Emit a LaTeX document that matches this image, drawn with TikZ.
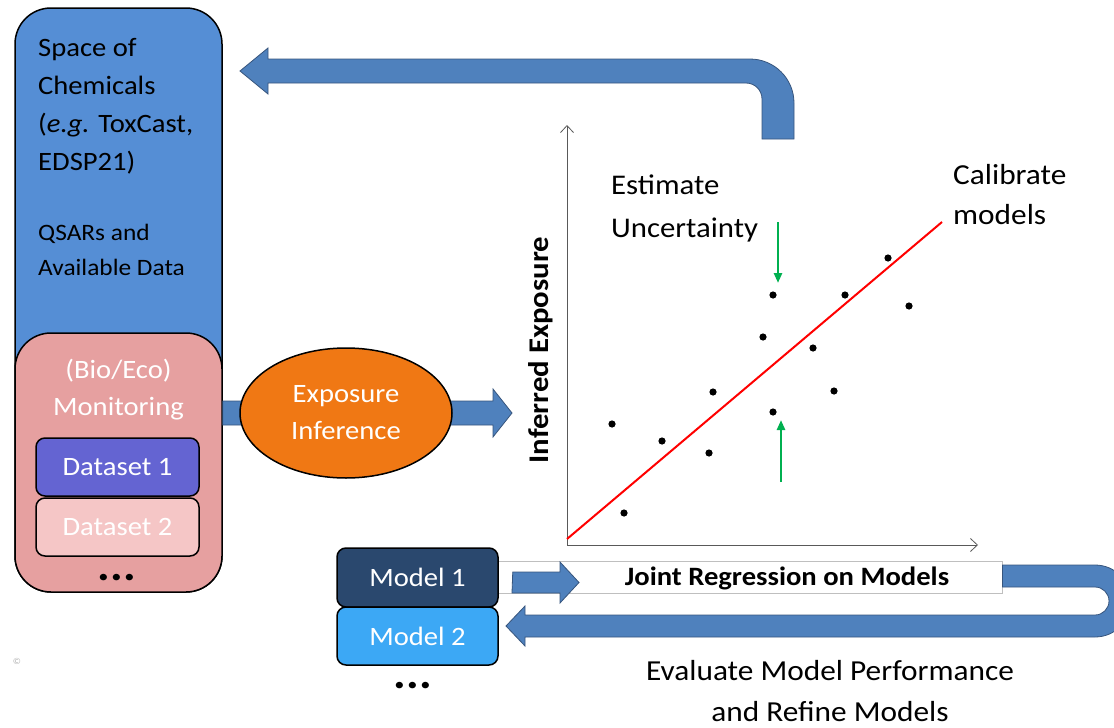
\documentclass[tikz,border=0pt]{standalone}
\usepackage{fontspec}
\setmainfont[FakeStretch=1.08]{Carlito}
\usetikzlibrary{arrows.meta,shapes.geometric}
\definecolor{chemblue}{RGB}{85,142,213}
\definecolor{monpink}{RGB}{230,160,160}
\definecolor{dsone}{RGB}{100,100,210}
\definecolor{dstwo}{RGB}{245,198,198}
\definecolor{modone}{RGB}{42,72,110}
\definecolor{modtwo}{RGB}{60,168,245}
\definecolor{expoorange}{RGB}{240,120,20}
\definecolor{arrowblue}{RGB}{79,129,189}
\definecolor{arrowedge}{RGB}{55,85,125}
\definecolor{uncgreen}{RGB}{0,176,80}
\newcommand\myfs[2]{\fontsize{#1}{#2}\selectfont}
\begin{document}
\begin{tikzpicture}[x=1pt,y=-1pt,
  box/.style={draw=black, line width=1.5pt, rounded corners=#1, inner sep=0pt},
  blockarrow/.style={fill=arrowblue, draw=arrowedge, line width=0.8pt},
  axis/.style={draw=black!65, line width=0.8pt, -{Straight Barb[length=7pt,width=13pt]}},
  greenarrow/.style={draw=uncgreen, line width=2.5pt, -{Triangle[length=10pt,width=8pt]}},
  wtext/.style={text=white, align=center},
  dotstyle/.style={font=\bfseries\myfs{44}{46}, inner sep=0pt}]
\useasboundingbox (0,0) rectangle (1114,728);
\clip (0,0) rectangle (1114,728);

% left column
\node[box=36pt, fill=chemblue, minimum width=207pt, minimum height=584pt] (chem) at (118.5,300) {};
\node[anchor=north west, inner sep=0pt, align=left, font=\myfs{26.5}{38}] (chemtxt) at (38,38)
  {Space of\\Chemicals\\(\textit{e.g.} ToxCast,\\EDSP21)};
\node[anchor=north west, inner sep=0pt, align=left, font=\myfs{23.5}{35}] (qsar) at (38,224)
  {QSARs and\\Available Data};
\node[box=36pt, fill=monpink, minimum width=207pt, minimum height=259pt] (mon) at (118.5,462.5) {};
\node[wtext, font=\myfs{26.5}{37}] (montxt) at (118.5,390) {(Bio/Eco)\\Monitoring};
\node[box=9pt, fill=dsone, minimum width=163pt, minimum height=58pt, wtext, font=\myfs{26.5}{30}] (ds1) at (117.5,467) {Dataset 1};
\node[box=9pt, fill=dstwo, minimum width=163pt, minimum height=58pt, wtext, font=\myfs{26.5}{30}] (ds2) at (117.5,527) {Dataset 2};
\node[dotstyle, anchor=base] (dotsa) at (117,580) {...};

% arrow monitoring -> plot (behind ellipse)
\fill[blockarrow] (mon.east |- 0,401) -- (493,401) -- (493,389) -- (512,413) -- (493,437) -- (493,425) -- (mon.east |- 0,425) -- cycle;
\node[ellipse, draw=black, line width=1.5pt, fill=expoorange, minimum width=212pt, minimum height=130pt, wtext, font=\myfs{26.5}{37}] (expo) at (346,413) {Exposure\\Inference};

% top feedback arrow
\fill[blockarrow] (762,139) -- (762,99) arc[start angle=0, end angle=-90, radius=16] -- (268,83) -- (268,94) -- (240,71) -- (268,48) -- (268,59) -- (750,59) arc[start angle=-90, end angle=0, radius=44] -- (794,139) -- cycle;

% plot
\coordinate (origin) at (567,545);
\coordinate (ytop) at (567,125);
\coordinate (xend) at (978,545);
\draw[axis] (origin) -- (ytop);
\draw[axis] (origin) -- (xend);
\coordinate (fita) at (567,539);
\coordinate (fitb) at (942,222);
\draw[red, line width=2pt] (fita) -- (fitb);
\foreach \p in {(612,424),(624,513),(662,441),(709,453),(713,392),(763,337),(773,295),(773,412),(813,348),(834,391),(845,295),(888,258),(909,306)}
  \fill \p circle[radius=3.6pt];
\coordinate (gda) at (778,222); \coordinate (gdb) at (778,283);
\coordinate (gua) at (781,482); \coordinate (gub) at (781,420);
\draw[greenarrow] (gda) -- (gdb);
\draw[greenarrow] (gua) -- (gub);
\node[rotate=90, font=\bfseries\myfs{28.5}{30}] (ylab) at (541,350) {Inferred Exposure};
\node[anchor=west, inner sep=0pt, align=left, font=\myfs{28.5}{43}] (est) at (611,208.5) {Estimate\\Uncertainty};
\node[anchor=west, inner sep=0pt, align=left, font=\myfs{29}{40}] (calib) at (953,195) {Calibrate\\models};

% bottom
\node[draw=black!25, fill=white, line width=0.8pt, minimum width=504pt, minimum height=32pt] (jointbox) at (750,577) {};
\node[font=\bfseries\myfs{26.5}{28}] (joint) at (787,578) {Joint Regression on Models};
\node[box=9pt, fill=modone, minimum width=161pt, minimum height=59pt, wtext, font=\myfs{26.5}{30}] (m1) at (417.5,577.5) {Model 1};
\node[box=9pt, fill=modtwo, minimum width=161pt, minimum height=58pt, wtext, font=\myfs{26.5}{30}] (m2) at (417.5,636) {Model 2};
\node[dotstyle, anchor=base] (dotsb) at (413,688) {...};
\fill[blockarrow] (m1.east |- 0,572) ++(14,0) -- (560,572) -- (560,562) -- (579,582.5) -- (560,603) -- (560,593) -- (512,593) -- cycle;
\fill[blockarrow] (jointbox.east |- 0,565) -- (1095,565) arc[start angle=-90, end angle=90, radius=36] -- (525,637) -- (525,646) -- (506,626) -- (525,606) -- (525,615) -- (1095,615) arc[start angle=90, end angle=-90, radius=14] -- (jointbox.east |- 0,587) -- cycle;
\node[align=center, font=\myfs{29}{41}] (eval) at (830,691) {Evaluate Model Performance\\and Refine Models};
\node[text=black!30, font=\myfs{9}{10}] (copy) at (17,661) {©};
\end{tikzpicture}
\end{document}
